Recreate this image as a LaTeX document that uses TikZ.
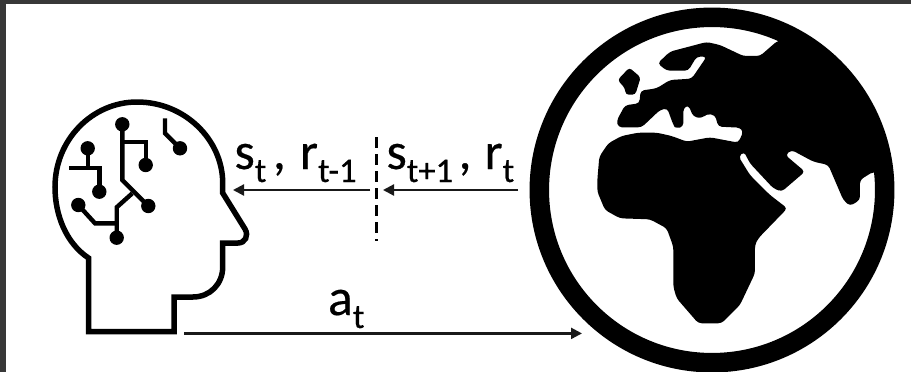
\documentclass[tikz,border=0pt]{standalone}
\usepackage{fontspec}
\setmainfont{Carlito}[FakeBold=0.4]
\usetikzlibrary{arrows.meta}
\newcommand{\lab}[1]{\addfontfeature{FakeBold=0.4}\fontsize{52}{52}\selectfont #1}
\newcommand{\subs}[1]{\raisebox{-13pt}{\addfontfeature{FakeBold=0.4}\fontsize{34.5}{35}\selectfont #1}}
\tikzset{
  headline/.style={line width=5.5pt,line join=miter,black},
  wire/.style={line width=4.4pt,line join=miter,black},
  dot/.style={fill=black,draw=none},
  conn/.style={line width=2.2pt,black!90,-{Triangle[length=11pt,width=11pt]}},
  lbl/.style={anchor=base west,inner sep=0pt,outer sep=0pt,black},
}
\begin{document}
\begin{tikzpicture}[x=1pt,y=-1pt]
\useasboundingbox (0,0) rectangle (911,372);
\fill[white] (0,0) rectangle (911,372);
\fill[black!78] (0,0) rectangle (911,4);
\fill[black!78] (0,0) rectangle (6,372);
% head
\draw[headline] (88.5,331.7) -- (88.5,258)
  .. controls (66,243) and (55,215) .. (55,187)
  .. controls (55,140) and (92,102) .. (137,102)
  .. controls (185,102) and (222.7,140) .. (222.7,183)
  -- (222.7,193) -- (245,229)
  .. controls (249,236) and (245,243) .. (238,243)
  -- (222.7,243) -- (222.7,267)
  .. controls (222.7,284) and (210,297) .. (193,297)
  -- (174,297) -- (174,331.7) -- cycle;
% circuits
\draw[wire] (122.3,124.3) -- (122.3,180) -- (148.3,206);
\draw[wire] (122.3,141.7) -- (145.7,141.7) -- (145.7,165);
\draw[wire] (132.3,193.3) -- (116.7,207.3) -- (116.7,237.7);
\draw[wire] (116.7,223.3) -- (95,223.3) -- (78.3,205);
\draw[wire] (87.7,148.3) -- (87.7,167.7);
\draw[wire] (69,167.7) -- (99.3,167.7) -- (99.3,191.7);
\draw[wire] (165,118.3) -- (165,133.3) -- (180,148.3);
\foreach \p in {(122.3,124.3),(148.3,206),(145.7,165),(116.7,237.7),(78.3,205),(87.7,148.3),(99.3,191.7),(180,148.3)}
  \fill[dot] \p circle (7.2pt);
% globe
\draw[black,line width=19.5pt] (712,190) circle (172.7pt);
\begin{scope}[shift={(510,0)},x=0.3333pt,y=-0.3333pt]
\fill[black,rounded corners=3.5pt]
  (262,540) -- (268,470) -- (295,430) -- (335,408) -- (385,398) -- (440,398) -- (485,408) -- (530,425)
  -- (600,412) -- (685,428) -- (700,395) -- (690,383) -- (625,380) -- (615,345) -- (590,342)
  -- (575,355) -- (550,350) -- (535,315) -- (520,325) -- (520,380) -- (498,386) -- (490,375)
  -- (472,325) -- (450,330) -- (395,382) -- (325,382) -- (320,362) -- (345,316) -- (388,310)
  -- (392,272) -- (440,265) -- (480,240) -- (545,236) -- (590,170) -- (560,170) -- (535,212)
  -- (470,212) -- (443,190) -- (480,155) -- (590,126) -- (630,135) -- (700,168) -- (750,168) -- (803,122)
  -- (845,120) -- (967,209) -- (1048,315) -- (1099,438) -- (1114,526) -- (1090,515)
  -- (1050,540) -- (1050,600) -- (1020,618) -- (1000,600) -- (955,495) -- (910,485)
  -- (845,450) -- (826,465) -- (885,515) -- (815,575) -- (790,565) -- (720,490) -- (702,455)
  -- (686,470) -- (720,525) -- (780,585) -- (832,625) -- (745,715) -- (735,735) -- (735,820)
  -- (690,915) -- (635,970) -- (565,970) -- (500,895) -- (490,860) -- (490,740) -- (470,685)
  -- (420,658) -- (330,655) -- (285,630) -- (262,575) -- cycle;
\fill[black,rounded corners=3pt]
  (323,240) -- (358,203) -- (392,232) -- (376,284) -- (347,284) -- (345,265) -- cycle;
\end{scope}
% labels
\node[lbl] (obsL) at (234.5,169) {\lab{s}\subs{t}\hspace{6.5pt}\lab{,}\hspace{14pt}\lab{r}\subs{t-1}};
\node[lbl] (obsR) at (386.5,169) {\lab{s}\subs{t+1}\hspace{5.5pt}\lab{,}\hspace{13pt}\lab{r}\subs{t}};
\node[lbl] (act) at (328,315) {\lab{a}\subs{t}};
% connectors
\coordinate (headIn) at (233,190);
\coordinate (headOut) at (184,333.4);
\coordinate (splitL) at (370,190);
\coordinate (splitR) at (383,190);
\coordinate (worldOut) at (518,190);
\coordinate (worldIn) at (582,333.4);
\coordinate (cutTop) at (376.7,137);
\coordinate (cutBot) at (376.7,241);
\draw[conn] (splitL) -- (headIn);
\draw[conn] (worldOut) -- (splitR);
\draw[conn] (headOut) -- (worldIn);
\draw[black,line width=2.5pt,dash pattern=on 11pt off 6pt] (cutTop) -- (cutBot);
\end{tikzpicture}
\end{document}
